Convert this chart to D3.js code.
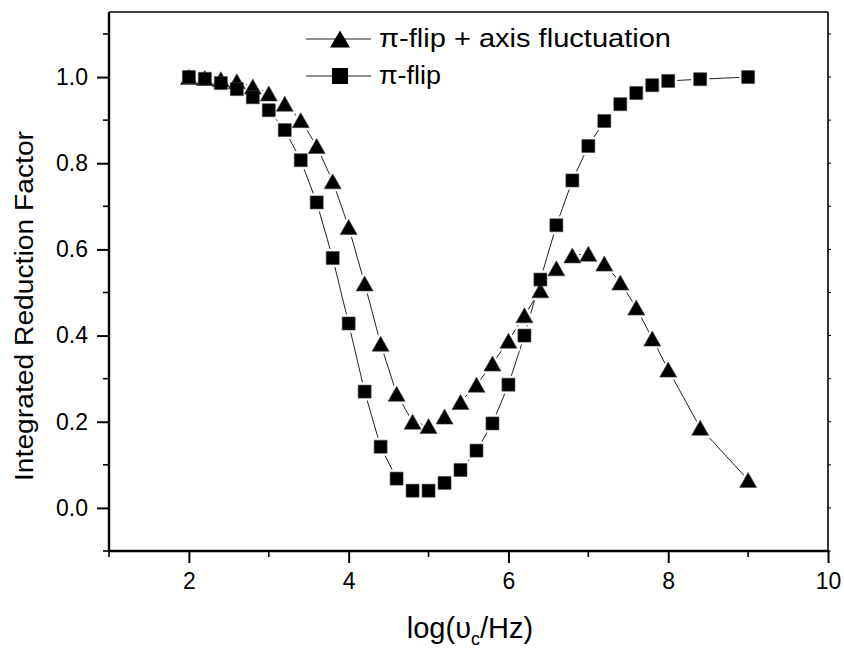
<!DOCTYPE html>
<html>
<head>
<meta charset="utf-8">
<script src="https://cdn.jsdelivr.net/npm/d3@7"></script>
<style>
  body { margin: 0; background: #fff; }
  svg text { font-family: "Liberation Sans", Arial, sans-serif; fill: #000; }
</style>
</head>
<body>
<div id="chart"></div>
<script>
// values
const xFlipAxis = [2, 2.2, 2.4, 2.6, 2.8, 3, 3.2, 3.4, 3.6, 3.8, 4, 4.2, 4.4, 4.6, 4.8, 5, 5.2, 5.4, 5.6, 5.8,
  6, 6.2, 6.4, 6.6, 6.8, 7, 7.2, 7.4, 7.6, 7.8, 8, 8.4, 9];
const yFlipAxis = [1.0, 0.998, 0.995, 0.99, 0.978, 0.962, 0.938, 0.9, 0.84, 0.758, 0.652, 0.521, 0.381, 0.265, 0.2, 0.19,
  0.212, 0.246, 0.286, 0.335, 0.388, 0.447, 0.505, 0.556, 0.586, 0.59, 0.567, 0.523, 0.465, 0.393, 0.321, 0.186, 0.065];

const xFlip = [2, 2.2, 2.4, 2.6, 2.8, 3, 3.2, 3.4, 3.6, 3.8, 4, 4.2, 4.4, 4.6, 4.8, 5, 5.2, 5.4, 5.6, 5.8,
  6, 6.2, 6.4, 6.6, 6.8, 7, 7.2, 7.4, 7.6, 7.8, 8, 8.4, 9];
const yFlip = [1.0, 0.996, 0.986, 0.972, 0.953, 0.923, 0.877, 0.807, 0.709, 0.58, 0.428, 0.27, 0.142, 0.068, 0.04, 0.04,
  0.058, 0.088, 0.133, 0.196, 0.286, 0.4, 0.53, 0.656, 0.76, 0.84, 0.898, 0.937, 0.963, 0.981, 0.991, 0.995, 1.0];

const xMajor = [2, 4, 6, 8, 10];
const xMinor = [1, 3, 5, 7, 9];
const yMajor = [0, 0.2, 0.4, 0.6, 0.8, 1.0];
const yMinor = [-0.1, 0.1, 0.3, 0.5, 0.7, 0.9, 1.1];

const legendLabels = ['\u03c0-flip + axis fluctuation', '\u03c0-flip'];

const width = 844;
const height = 648;
const margin = { top: 12, right: 16, bottom: 97, left: 109 };

const svg = d3.select('#chart').append('svg')
  .attr('width', width)
  .attr('height', height);

const x = d3.scaleLinear()
  .domain([1, 10])
  .range([margin.left, width - margin.right]);

const y = d3.scaleLinear()
  .domain([-0.1, 1.151])
  .range([height - margin.bottom, margin.top]);

const x0 = x.range()[0], x1 = x.range()[1];
const y0 = y.range()[0], y1 = y.range()[1];

// frame (top and right)
svg.append('line').attr('x1', x0).attr('x2', x1).attr('y1', y1).attr('y2', y1)
  .attr('stroke', '#000').attr('stroke-width', 1.6);
svg.append('line').attr('x1', x1).attr('x2', x1).attr('y1', y0).attr('y2', y1)
  .attr('stroke', '#000').attr('stroke-width', 1.6);

// right-side small ticks
svg.append('g').selectAll('line')
  .data(yMajor.concat(yMinor))
  .join('line')
  .attr('x1', x1).attr('x2', x1 + 3)
  .attr('y1', d => y(d)).attr('y2', d => y(d))
  .attr('stroke', '#000').attr('stroke-width', 1);

// bottom axis
const xAxis = svg.append('g')
  .attr('transform', `translate(0,${y0})`)
  .call(d3.axisBottom(x).tickValues(xMajor).tickSize(12).tickPadding(10).tickFormat(d3.format('d')));
xAxis.append('g').selectAll('line')
  .data(xMinor)
  .join('line')
  .attr('x1', d => x(d)).attr('x2', d => x(d))
  .attr('y1', 0).attr('y2', 6)
  .attr('stroke', '#000').attr('stroke-width', 1.6);

// left axis
const yAxis = svg.append('g')
  .attr('transform', `translate(${x0},0)`)
  .call(d3.axisLeft(y).tickValues(yMajor).tickSize(12).tickPadding(9).tickFormat(d3.format('.1f')));
yAxis.append('g').selectAll('line')
  .data(yMinor)
  .join('line')
  .attr('x1', 0).attr('x2', -6)
  .attr('y1', d => y(d)).attr('y2', d => y(d))
  .attr('stroke', '#000').attr('stroke-width', 1.6);

[xAxis, yAxis].forEach(g => {
  g.select('.domain').attr('stroke-width', 2.4).attr('d',
    g === xAxis ? `M${x0 - 1},0H${x1}` : `M0,${y0 + 1}V${y1}`);
  g.selectAll('.tick line').attr('stroke-width', 2);
  g.selectAll('.tick text')
    .attr('font-size', 23)
    .attr('font-family', '"Liberation Sans", Arial, sans-serif');
});
xAxis.selectAll('.tick text').attr('dy', '0.71em');

// axis titles
svg.append('text')
  .attr('transform', `translate(33,306) rotate(-90)`)
  .attr('text-anchor', 'middle')
  .attr('font-size', 26)
  .attr('textLength', 350)
  .attr('lengthAdjust', 'spacingAndGlyphs')
  .text('Integrated Reduction Factor');

const xt = svg.append('text')
  .attr('x', 470)
  .attr('y', 638)
  .attr('text-anchor', 'middle')
  .attr('font-size', 29);
xt.append('tspan').text('log(\u03c5');
xt.append('tspan').attr('font-size', 18).attr('dy', 7).text('c');
xt.append('tspan').attr('dy', -7).text('/Hz)');

// markers
const tri = (w, h) => `M0,${-h / 2}L${w / 2},${h / 2}L${-w / 2},${h / 2}Z`;
const sq = s => `M${-s / 2},${-s / 2}h${s}v${s}h${-s}Z`;

const series = [
  { xs: xFlipAxis, ys: yFlipAxis, shape: tri(17, 15) },
  { xs: xFlip, ys: yFlip, shape: sq(13) },
];

const line = d3.line().x(d => x(d[0])).y(d => y(d[1]));

series.forEach(s => {
  svg.append('path')
    .datum(d3.zip(s.xs, s.ys))
    .attr('d', line)
    .attr('fill', 'none')
    .attr('stroke', '#222')
    .attr('stroke-width', 1);
});
// white halo to open small gaps in the lines around markers
series.forEach(s => {
  svg.append('g').selectAll('path')
    .data(d3.zip(s.xs, s.ys))
    .join('path')
    .attr('d', s.shape)
    .attr('transform', d => `translate(${x(d[0])},${y(d[1])})`)
    .attr('fill', '#fff')
    .attr('stroke', '#fff')
    .attr('stroke-width', 5);
});
series.forEach(s => {
  svg.append('g').selectAll('path')
    .data(d3.zip(s.xs, s.ys))
    .join('path')
    .attr('d', s.shape)
    .attr('transform', d => `translate(${x(d[0])},${y(d[1])})`)
    .attr('fill', '#000')
    .attr('stroke', '#444')
    .attr('stroke-width', 0.6);
});

// legend
const legendWidths = [292, 62];
const legend = svg.append('g');
legendLabels.forEach((label, i) => {
  const ly = 39 + i * 37;
  legend.append('line')
    .attr('x1', 306).attr('x2', 371).attr('y1', ly).attr('y2', ly)
    .attr('stroke', '#222').attr('stroke-width', 1);
  legend.append('path')
    .attr('d', i === 0 ? tri(20, 17) : sq(16))
    .attr('transform', `translate(340,${ly})`)
    .attr('fill', '#000');
  legend.append('text')
    .attr('x', 379)
    .attr('y', ly + 8)
    .attr('font-size', 26)
    .attr('textLength', legendWidths[i])
    .attr('lengthAdjust', 'spacingAndGlyphs')
    .text(label);
});
</script>
</body>
</html>
